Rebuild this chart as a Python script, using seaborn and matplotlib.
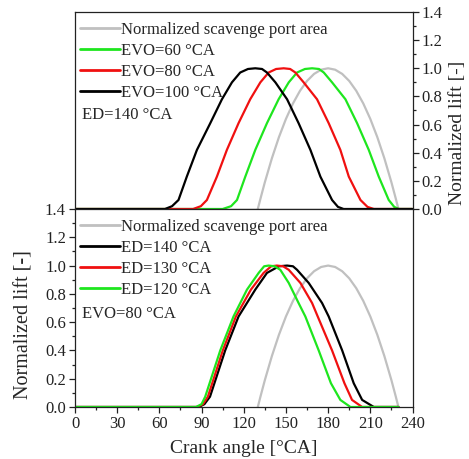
import numpy as np
import pandas as pd
import matplotlib
matplotlib.use("Agg")
import matplotlib.pyplot as plt
import seaborn as sns
from matplotlib.ticker import MultipleLocator
from matplotlib.lines import Line2D

# ---------------- data ----------------
# Normalized scavenge port area (same in both panels)
port_x = [130, 132, 135, 140, 145, 150, 155, 160, 165, 170, 175, 180,
          185, 190, 195, 200, 205, 210, 215, 220, 225, 228, 230]
port_y = [0, 0.078, 0.19, 0.36, 0.51, 0.64, 0.75, 0.84, 0.91, 0.96, 0.99, 1.0,
          0.99, 0.96, 0.91, 0.84, 0.75, 0.64, 0.51, 0.36, 0.19, 0.078, 0]

# Top panel: ED = 140 °CA, varying EVO
top_y = [0, 0, 0.02, 0.064, 0.23, 0.42, 0.61, 0.78, 0.90, 0.97, 0.995, 1.0,
         0.995, 0.97, 0.90, 0.78, 0.61, 0.42, 0.23, 0.064, 0.015, 0, 0]
evo100_x = [0, 64, 69, 73.6, 79.5, 86.7, 96.2, 104.5, 111.6, 117.5, 123, 128.2,
            133, 136.5, 142.5, 150.8, 159, 167.4, 174.5, 182.8, 187, 191, 240]
evo80_x = [0, 84, 89.5, 93.8, 100.9, 108, 116.3, 124.6, 131.8, 137.7, 143, 148.4,
           153, 156.7, 162.6, 172.1, 180.4, 188.7, 194.7, 203, 208, 212.5, 240]
evo60_x = [0, 105, 111, 115.2, 121.1, 128.2, 136.5, 144.8, 152, 157.9, 163.5, 168.6,
           173.5, 176.9, 182.8, 192.3, 200.6, 208.9, 216, 223.1, 227, 230.3, 240]

# Bottom panel: EVO = 80 °CA, varying ED
bot_y = [0, 0, 0.02, 0.073, 0.40, 0.64, 0.83, 0.948, 0.995, 1.0,
         0.995, 0.97, 0.877, 0.735, 0.64, 0.40, 0.168, 0.05, 0, 0]
ed140_x = [0, 88, 92, 96, 106.8, 116.3, 128.2, 136.5, 145, 150.8,
           155, 157.9, 166.2, 175.7, 180.4, 190, 198.2, 204.2, 212.5, 230]
ed130_x = [0, 87, 91, 94.5, 105.1, 114.4, 125.1, 134.1, 139.5, 143.6,
           148, 152, 160.3, 168.6, 172.6, 182.8, 191.6, 197, 204.2, 230]
ed120_x = [0, 86, 90, 92.6, 103.3, 112.7, 122.3, 130.6, 134.5, 137.7,
           142, 146, 152, 159, 163.8, 173.3, 182, 188.7, 195.9, 230]

x_ticks = [0, 30, 60, 90, 120, 150, 180, 210, 240]
y_ticks = [0.0, 0.2, 0.4, 0.6, 0.8, 1.0, 1.2, 1.4]

top_labels = ["Normalized scavenge port area", "EVO=60 °CA", "EVO=80 °CA", "EVO=100 °CA"]
bot_labels = ["Normalized scavenge port area", "ED=140 °CA", "ED=130 °CA", "ED=120 °CA"]
top_note = "ED=140 °CA"
bot_note = "EVO=80 °CA"
x_label = "Crank angle [°CA]"
y_label = "Normalized lift [-]"

GRAY, GREEN, RED, BLACK = "#c0c0c0", "#1ee61e", "#f01010", "#000000"

# ---------------- dataframes ----------------
def build(series):
    frames = []
    for name, xs, ys in series:
        frames.append(pd.DataFrame({"x": xs, "y": ys, "s": name}))
    return pd.concat(frames, ignore_index=True)

df_top = build([(top_labels[0], port_x, port_y),
                (top_labels[1], evo60_x, top_y),
                (top_labels[2], evo80_x, top_y),
                (top_labels[3], evo100_x, top_y)])
df_bot = build([(bot_labels[0], port_x, port_y),
                (bot_labels[1], ed140_x, bot_y),
                (bot_labels[2], ed130_x, bot_y),
                (bot_labels[3], ed120_x, bot_y)])

# ---------------- style ----------------
sns.set_style("ticks")
plt.rcParams['font.family'] = ['Liberation Serif', 'DejaVu Serif']
plt.rcParams['axes.linewidth'] = 0.9
plt.rcParams['axes.edgecolor'] = '#222222'

fig = plt.figure(figsize=(4.69, 4.59), dpi=100)
L, W = 75 / 469, 337.5 / 469
ax_top = fig.add_axes([L, 1 - 209 / 459, W, 197 / 459])
ax_bot = fig.add_axes([L, 1 - 407 / 459, W, 198 / 459])

top_pal = {top_labels[0]: GRAY, top_labels[1]: GREEN, top_labels[2]: RED, top_labels[3]: BLACK}
bot_pal = {bot_labels[0]: GRAY, bot_labels[1]: BLACK, bot_labels[2]: RED, bot_labels[3]: GREEN}

LW = 1.6
sns.lineplot(data=df_top, x="x", y="y", hue="s", hue_order=top_labels, palette=top_pal,
             estimator=None, sort=False, linewidth=LW, legend=False, ax=ax_top)
sns.lineplot(data=df_bot, x="x", y="y", hue="s", hue_order=bot_labels, palette=bot_pal,
             estimator=None, sort=False, linewidth=LW, legend=False, ax=ax_bot)

TICK_FS = 12
for ax in (ax_top, ax_bot):
    ax.set_xlim(0, 240)
    ax.set_ylim(0, 1.4)
    ax.set_xticks(x_ticks)
    ax.set_yticks(y_ticks)
    ax.xaxis.set_minor_locator(MultipleLocator(15))
    ax.yaxis.set_minor_locator(MultipleLocator(0.1))
    for s in ax.spines.values():
        s.set_visible(True)
    ax.tick_params(which='major', direction='out', length=4, width=0.9,
                   labelsize=TICK_FS, colors='#222222', pad=2.5)
    ax.tick_params(which='minor', direction='out', length=2.5, width=0.9, colors='#222222')
    ax.set_xlabel("")
    ax.set_ylabel("")

# top panel: ticks on right only, no x ticks
ax_top.tick_params(axis='x', which='both', bottom=False, top=False, labelbottom=False)
ax_top.tick_params(axis='y', which='both', left=False, labelleft=False, right=True, labelright=True)
ax_top.set_yticklabels([f"{v:.1f}" for v in y_ticks])
ax_top.yaxis.set_label_position("right")
ax_top.set_ylabel(y_label, fontsize=14)
ax_top.yaxis.set_label_coords((449 - 75) / 337.5, (209 - 133) / 197)

# bottom panel
ax_bot.tick_params(axis='x', which='both', top=False)
ax_bot.tick_params(axis='y', which='both', right=False)
ax_bot.set_yticklabels([f"{v:.1f}" for v in y_ticks])
ax_bot.set_xlabel(x_label, fontsize=14)
ax_bot.xaxis.set_label_coords(0.5, -(440 - 407) / 198)
ax_bot.xaxis.label.set_va('top')
ax_bot.set_ylabel(y_label, fontsize=14.5)
ax_bot.yaxis.set_label_coords((34 - 75) / 337.5, (407 - 325) / 198)

def make_legend(ax, labels, pal):
    handles = [Line2D([], [], color=pal[l], lw=2.0) for l in labels]
    ax.legend(handles, labels, loc='upper left', frameon=False, fontsize=12,
              handlelength=2.4, handletextpad=0.05, labelspacing=0.3,
              borderaxespad=0.0, borderpad=0.3, bbox_to_anchor=(0.0, 0.975))

make_legend(ax_top, top_labels, top_pal)
make_legend(ax_bot, bot_labels, bot_pal)
ax_top.text(5, 0.665, top_note, fontsize=12, va='center', ha='left')
ax_bot.text(5, 0.66, bot_note, fontsize=12, va='center', ha='left')

fig.savefig("out.png", dpi=100)
